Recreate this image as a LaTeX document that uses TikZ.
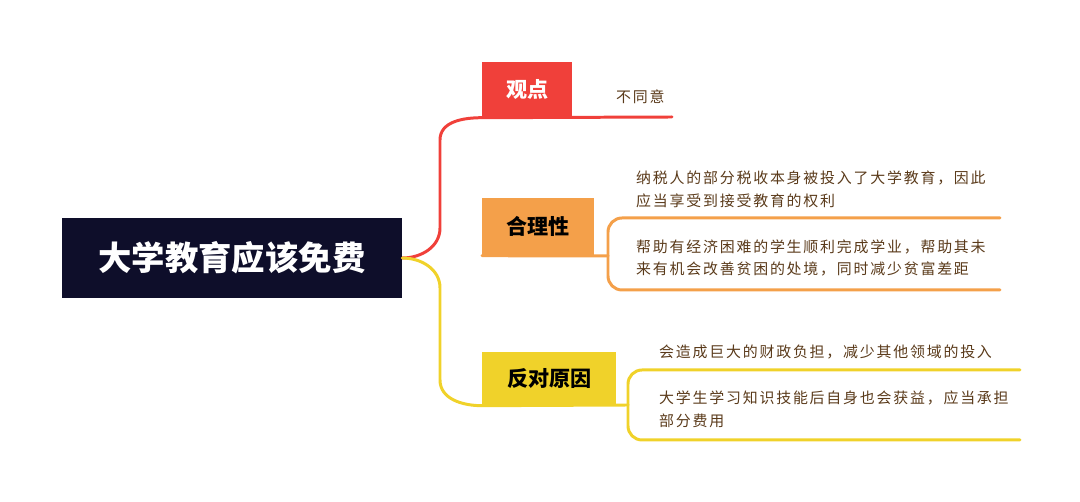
\documentclass[tikz,border=0pt]{standalone}
\usepackage{fontspec}
\setmainfont{Noto Sans CJK SC}
\newfontfamily\leaffont[LetterSpace=12]{Noto Sans CJK SC}
\usetikzlibrary{positioning}
\definecolor{navy}{HTML}{0E0E2A}
\definecolor{tomato}{HTML}{F0403A}
\definecolor{apricot}{HTML}{F4A04A}
\definecolor{mustard}{HTML}{F0D22A}
\definecolor{bark}{HTML}{5A3A1A}
\tikzset{topic/.style={fill=#1, inner sep=0pt, anchor=north west, font=\fontsize{12}{14}\selectfont\bfseries},
  leaf/.style={text=bark, anchor=west, align=left, font=\leaffont\fontsize{8.5}{13}\selectfont},
  wire/.style={line width=1.7pt, draw=#1, line cap=round}}
\begin{document}
\begin{tikzpicture}[x=0.02cm, y=-0.02cm]
        \useasboundingbox (0,0) rectangle (1080,502);
        \node[fill=navy, text=white, minimum width=340*0.02cm, minimum height=80*0.02cm,
          font=\fontsize{19}{22}\selectfont\bfseries] (root) at (232,258) {大学教育应该免费};
        % topics
        \node[topic=tomato, text=white, minimum width=90*0.02cm, minimum height=55*0.02cm] (view) at (482,62) {观点};
        \node[topic=apricot, minimum width=112*0.02cm, minimum height=57*0.02cm] (pro) at (482,198) {合理性};
        \node[topic=mustard, minimum width=134*0.02cm, minimum height=53*0.02cm] (con) at (482,352) {反对原因};
        % leaves
        \node[leaf] (v1) at (610,97) {不同意};
        \node[leaf] (p1) at (630,189) {纳税人的部分税收本身被投入了大学教育，因此\\应当享受到接受教育的权利};
        \node[leaf] (p2) at (630,258) {帮助有经济困难的学生顺利完成学业，帮助其未\\来有机会改善贫困的处境，同时减少贫富差距};
        \node[leaf] (c1) at (653,352) {会造成巨大的财政负担，减少其他领域的投入};
        \node[leaf] (c2) at (653,409) {大学生学习知识技能后自身也会获益，应当承担\\部分费用};
        \coordinate (pk) at (608,256);
        \coordinate (ck) at (628,405);
        % branches
        \draw[wire=tomato] (root.east) to[out=0,in=-90] (440,228) -- (440,140) to[out=90,in=180] (view.south west);
        \draw[wire=mustard] (root.east) to[out=0,in=90] (440,288) -- (440,380) to[out=-90,in=180] (con.south west);
        \draw[wire=tomato] (view.south west) -- (672,117);
        \draw[wire=apricot] (pro.south west) -- (pk);
        \draw[wire=apricot, rounded corners=8pt] (pk) |- (1000,218);
        \draw[wire=apricot, rounded corners=8pt] (pk) |- (1000,290);
        \draw[wire=mustard] (con.south west) -- (ck);
        \draw[wire=mustard, rounded corners=8pt] (ck) |- (1020,370);
        \draw[wire=mustard, rounded corners=8pt] (ck) |- (1020,440);
      \end{tikzpicture}
\end{document}
